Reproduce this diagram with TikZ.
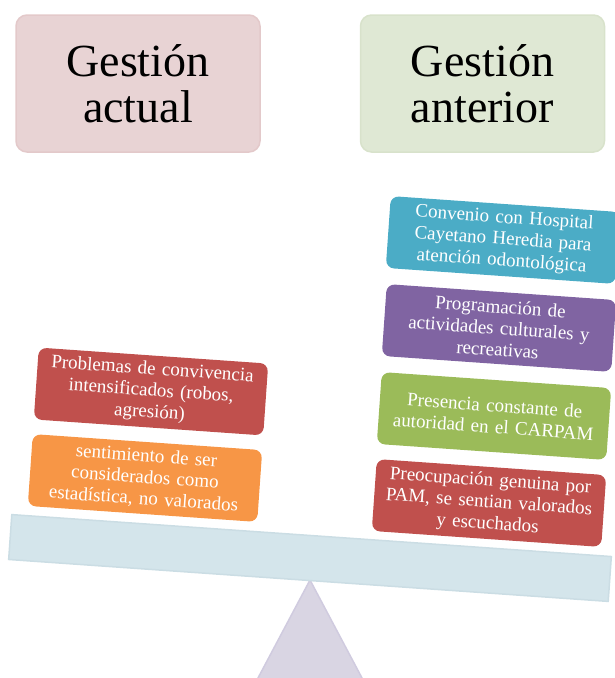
\documentclass[tikz,border=0pt]{standalone}
\usepackage{fontspec}
\setmainfont{Liberation Serif}
\definecolor{titleRedFill}{HTML}{E8D3D4}
\definecolor{titleRedLine}{HTML}{E3C9CA}
\definecolor{titleGreenFill}{HTML}{DFE8D4}
\definecolor{titleGreenLine}{HTML}{D8E2CB}
\definecolor{itemRed}{HTML}{C0504D}
\definecolor{itemOrange}{HTML}{F79646}
\definecolor{itemCyan}{HTML}{4BACC6}
\definecolor{itemPurple}{HTML}{8064A2}
\definecolor{itemGreen}{HTML}{9BBB59}
\definecolor{beamFill}{HTML}{D4E5EB}
\definecolor{beamLine}{HTML}{CBDDE4}
\definecolor{pivotFill}{HTML}{D9D5E3}
\definecolor{pivotLine}{HTML}{D0CBDF}
\begin{document}
\begin{tikzpicture}[x=1pt,y=1pt,
  titlebox/.style={rounded corners=11pt, minimum width=244pt, minimum height=137pt,
    align=center, line width=1.5pt, inner sep=0pt,
    font=\fontsize{46}{46}\selectfont},
  itembox/.style={rounded corners=8pt, minimum width=230pt, minimum height=72pt,
    text width=226pt, align=center, text=white, rotate=-4, inner sep=1pt,
    font=\fontsize{19}{21.5}\selectfont},
  beambox/.style={fill=beamFill, draw=beamLine, line width=1.5pt,
    minimum width=601pt, minimum height=45pt, rotate=-4, inner sep=0pt}]
\useasboundingbox (0,0) rectangle (615,-678);
\clip (0,0) rectangle (615,-678);

% header boxes
\node[titlebox, fill=titleRedFill, draw=titleRedLine] (actual) at (138,-83.5)
  {Gestión\\actual};
\node[titlebox, fill=titleGreenFill, draw=titleGreenLine] (anterior) at (482.5,-83.5)
  {Gestión\\anterior};

% pivot of the scale
\filldraw[fill=pivotFill, draw=pivotLine, line width=1.5pt]
  (310,-580) -- (373.7,-700) -- (246.3,-700) -- cycle;

% beam of the scale
\node[beambox] (beam) at (310,-558) {};

% left pan
\node[itembox, fill=itemRed] (convivencia) at (151,-391.5)
  {Problemas de convivencia\\intensificados (robos,\\agresión)};
\node[itembox, fill=itemOrange] (estadistica) at (145,-478)
  {sentimiento de ser\\considerados como\\estadística, no valorados};

% right pan
\node[itembox, fill=itemCyan] (convenio) at (503,-240)
  {Convenio con Hospital\\Cayetano Heredia para\\atención odontológica};
\node[itembox, fill=itemPurple] (programacion) at (499,-328)
  {Programación de\\actividades culturales y\\recreativas};
\node[itembox, fill=itemGreen] (presencia) at (494,-416)
  {Presencia constante de\\autoridad en el CARPAM};
\node[itembox, fill=itemRed] (preocupacion) at (489,-503)
  {Preocupación genuina por\\PAM, se sentian valorados\\y escuchados};
\end{tikzpicture}
\end{document}
